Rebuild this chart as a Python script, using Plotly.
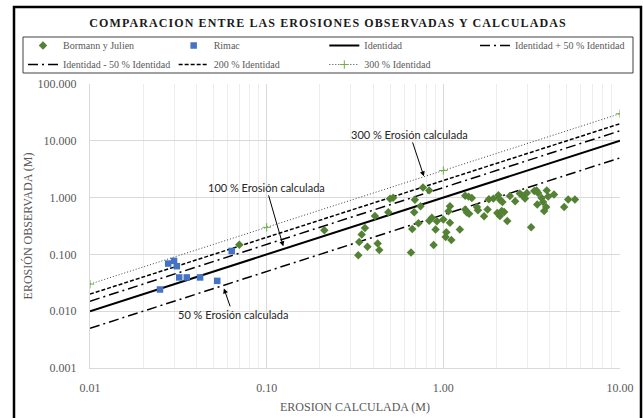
import plotly.graph_objects as go

# ---------------- data ----------------
bormann_x = [0.070, 0.212, 0.330, 0.334, 0.345, 0.360, 0.372, 0.410, 0.425, 0.434,
             0.488, 0.499, 0.520, 0.656, 0.667, 0.684, 0.690, 0.723, 0.743, 0.767,
             0.832, 0.832, 0.861, 0.881, 0.904, 0.920, 1.00, 1.03, 1.04, 1.07,
             1.09, 1.09, 1.11, 1.24, 1.33, 1.39, 1.45, 1.33, 1.36, 1.40,
             1.55, 1.57, 1.70, 1.78, 1.81, 1.92, 2.05, 2.10, 2.16, 2.02,
             2.09, 2.14, 2.21, 2.30, 2.38, 2.55, 2.71, 2.81, 2.90, 2.97,
             3.14, 3.27, 3.37, 3.44, 3.40, 3.60, 3.67, 3.72, 3.85, 3.82,
             3.92, 4.23, 4.83, 5.09, 5.56]
bormann_y = [0.148, 0.266, 0.097, 0.166, 0.225, 0.292, 0.136, 0.475, 0.156, 0.119,
             0.552, 0.953, 0.990, 0.108, 0.281, 0.552, 0.914, 0.353, 0.703, 1.50,
             1.34, 0.391, 0.442, 0.147, 0.274, 0.383, 0.412, 0.203, 0.245, 0.574,
             0.703, 0.360, 0.180, 0.275, 1.08, 1.04, 0.98, 0.615, 0.544, 0.519,
             0.681, 0.598, 0.469, 0.615, 0.933, 0.960, 1.10, 0.908, 0.837, 0.534,
             0.473, 0.579, 0.558, 0.388, 1.07, 0.861, 1.18, 1.08, 0.960, 1.21,
             0.301, 1.31, 1.34, 1.21, 0.756, 0.98, 0.837, 0.579, 1.34, 0.684,
             1.05, 1.13, 0.684, 0.922, 0.922]

rimac_x = [0.0249, 0.0277, 0.0299, 0.0310, 0.0320, 0.0353, 0.0420, 0.0525, 0.0634]
rimac_y = [0.0241, 0.0690, 0.0769, 0.0620, 0.0393, 0.0393, 0.0393, 0.0342, 0.1150]

line_x = [0.01, 0.1, 1.0, 10.0]
identidad_y = [0.01, 0.1, 1.0, 10.0]
mas50_y = [0.015, 0.15, 1.5, 15.0]
menos50_y = [0.005, 0.05, 0.5, 5.0]
y200 = [0.02, 0.2, 2.0, 20.0]
y300 = [0.03, 0.3, 3.0, 30.0]

x_tickvals = [0.01, 0.1, 1, 10]
x_ticktext = ["0.01", "0.10", "1.00", "10.00"]
y_tickvals = [0.001, 0.01, 0.1, 1, 10, 100]
y_ticktext = ["0.001", "0.010", "0.100", "1.000", "10.000", "100.000"]

title_text = "COMPARACION ENTRE LAS EROSIONES OBSERVADAS Y CALCULADAS"

# ---------------- figure ----------------
SERIF = "Liberation Serif, Times New Roman, serif"
SANS = "Lato, Open Sans, sans-serif"
GRAY = "#595959"

fig = go.Figure()

fig.add_trace(go.Scatter(x=line_x, y=identidad_y, mode="lines", name="Identidad",
                         line=dict(color="black", width=2), legendrank=3))
fig.add_trace(go.Scatter(x=line_x, y=mas50_y, mode="lines", name="Identidad + 50 % Identidad",
                         line=dict(color="black", width=1.5, dash="10px,4px,2px,4px"), legendrank=4))
fig.add_trace(go.Scatter(x=line_x, y=menos50_y, mode="lines", name="Identidad - 50 % Identidad",
                         line=dict(color="black", width=1.5, dash="10px,4px,2px,4px"), legendrank=5))
fig.add_trace(go.Scatter(x=line_x, y=y200, mode="lines", name="200 % Identidad",
                         line=dict(color="black", width=1.5, dash="4px,2px"), legendrank=6))
fig.add_trace(go.Scatter(x=line_x, y=y300, mode="lines+markers", name="300 % Identidad",
                         line=dict(color="#404040", width=1, dash="1px,2px"),
                         marker=dict(symbol="cross-thin", size=6, color="#70ad47",
                                     line=dict(color="#70ad47", width=1)),
                         legendrank=7))
fig.add_trace(go.Scatter(x=bormann_x, y=bormann_y, mode="markers", name="Bormann y Julien",
                         marker=dict(symbol="diamond", size=6.5, color="#548235"), legendrank=1))
fig.add_trace(go.Scatter(x=rimac_x, y=rimac_y, mode="markers", name="Rimac",
                         marker=dict(symbol="square", size=6.5, color="#4472c4"), legendrank=2))

W, H = 643, 418
L, R, T, B = 90, 23, 84, 50
pw, ph = W - L - R, H - T - B

def px_to_paper_x(p):
    return (p - L) / pw

def px_to_paper_y(p):
    return (H - B - p) / ph

minor_x = [m * d for d in (0.01, 0.1, 1) for m in range(2, 10)]

fig.update_layout(
    width=W, height=H, autosize=False,
    margin=dict(l=L, r=R, t=T, b=B, autoexpand=False),
    paper_bgcolor="white", plot_bgcolor="white",
    title=dict(text='<span style="letter-spacing:1.1px"><b>' + title_text + '</b></span>',
               x=px_to_paper_x(328), xanchor="center", xref="paper",
               y=1 - 23 / H, yanchor="middle",
               font=dict(family=SERIF, size=12, color="#1a1a1a")),
    showlegend=True,
    legend=dict(orientation="h", x=px_to_paper_x(23), xanchor="left",
                y=px_to_paper_y(31), yanchor="top",
                entrywidthmode="fraction", entrywidth=0.243,
                font=dict(family=SERIF, size=10, color=GRAY),
                bgcolor="rgba(0,0,0,0)", borderwidth=0, itemwidth=30,
                traceorder="normal"),
    xaxis=dict(type="log", range=[-2, 1], tickvals=x_tickvals, ticktext=x_ticktext,
               automargin=False,
               showgrid=True, gridcolor="#d9d9d9", gridwidth=1,
               minor=dict(tickvals=minor_x, showgrid=True, gridcolor="#ededed", gridwidth=1),
               showline=True, linecolor="#d9d9d9", linewidth=1, mirror=False,
               ticks="", ticklabelstandoff=9, zeroline=False,
               tickfont=dict(family=SERIF, size=12, color=GRAY),
               title=dict(text="EROSION CALCULADA (M)", standoff=8,
                          font=dict(family=SERIF, size=12, color=GRAY))),
    yaxis=dict(type="log", range=[-3, 2], tickvals=y_tickvals, ticktext=y_ticktext,
               automargin=False,
               showgrid=True, gridcolor="#d9d9d9", gridwidth=1,
               showline=True, linecolor="#d9d9d9", linewidth=1,
               ticks="", ticklabelstandoff=10, zeroline=False,
               tickfont=dict(family=SERIF, size=12, color=GRAY),
               title=dict(text="EROSIÓN OBSERVADA (M)", standoff=2,
                          font=dict(family=SERIF, size=12, color=GRAY))),
)

# legend frame and outer chart frame
fig.add_shape(type="rect", xref="paper", yref="paper",
              x0=px_to_paper_x(23), x1=px_to_paper_x(633),
              y0=px_to_paper_y(73), y1=px_to_paper_y(37),
              line=dict(color="#404040", width=1), fillcolor="rgba(0,0,0,0)", layer="above")
fig.add_shape(type="rect", xref="paper", yref="paper",
              x0=px_to_paper_x(14), x1=px_to_paper_x(641),
              y0=px_to_paper_y(430), y1=px_to_paper_y(7),
              line=dict(color="black", width=2.5), fillcolor="rgba(0,0,0,0)", layer="above")

# annotations with arrows
ann_font = dict(family=SANS, size=11, color="#262626")
fig.add_annotation(x=-0.906, y=-0.858, xref="x", yref="y", text="100 % Erosión calculada",
                   showarrow=True, ax=-17, ay=-59, arrowhead=2, arrowsize=1, arrowwidth=1,
                   arrowcolor="black", font=ann_font)
fig.add_annotation(x=-0.110, y=0.374, xref="x", yref="y", text="300 % Erosión calculada",
                   showarrow=True, ax=-14, ay=-42, arrowhead=2, arrowsize=1, arrowwidth=1,
                   arrowcolor="black", font=ann_font)
fig.add_annotation(x=-1.242, y=-1.599, xref="x", yref="y", text="50 % Erosión calculada",
                   showarrow=True, ax=9, ay=26, arrowhead=2, arrowsize=1, arrowwidth=1,
                   arrowcolor="black", font=ann_font)

fig.write_html("out.html", config={"displayModeBar": False},
               post_script="document.body.style.margin='0';document.body.style.overflow='hidden';")
